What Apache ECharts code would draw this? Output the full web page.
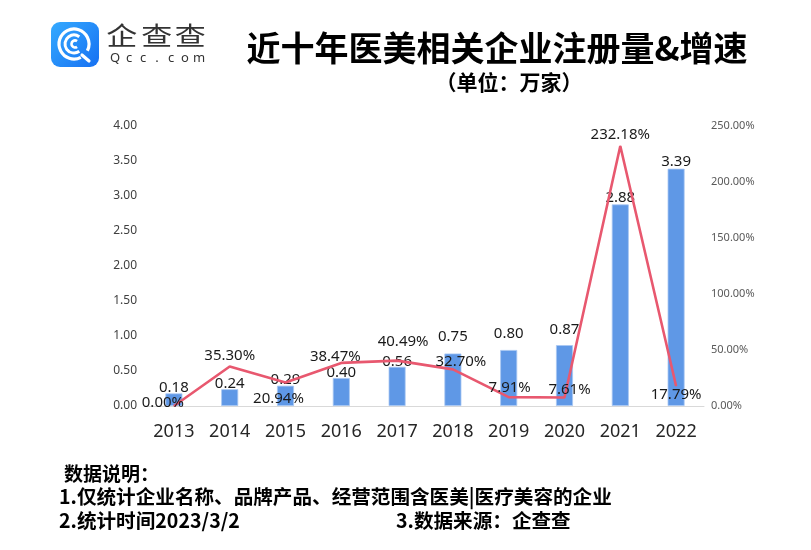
<!DOCTYPE html>
<html>
<head>
<meta charset="utf-8">
<script src="https://cdn.jsdelivr.net/npm/echarts@6/dist/echarts.min.js"></script>
<style>
html,body{margin:0;padding:0;background:#fff;}
#main{width:811px;height:550px;}
</style>
</head>
<body>
<div id="main"></div>
<script>
var years = ['2013','2014','2015','2016','2017','2018','2019','2020','2021','2022'];
var registrations = [0.18, 0.24, 0.29, 0.40, 0.56, 0.75, 0.80, 0.87, 2.88, 3.39];
var growthRate = [0.00, 35.30, 20.94, 38.47, 40.49, 32.70, 7.91, 7.61, 232.18, 17.79];
var leftTicks = {min: 0, max: 4, interval: 0.5};
var rightTicks = {min: 0, max: 250, interval: 50};

var FONT = '"Noto Sans", "Noto Sans CJK SC", sans-serif';
var CJK = '"Noto Sans CJK SC", sans-serif';

var barLabelOffsets = [[0,2],[0,2],[0,2],[0,2],[0,2],[0,-9],[0,-9],[0,-8],[0,1],[0,1]];
var lineLabelOffsets = [[-11,-3],[0,-11],[-7,16],[-6,-6],[6,-19],[8,-8],[1,-9],[5,-8],[0,-11],[0,9]];

var barData = registrations.map(function(v, i){
  return {value: v, label: {offset: barLabelOffsets[i]}};
});
var lineData = growthRate.map(function(v, i){
  return {value: v, label: {offset: lineLabelOffsets[i]}};
});

var chart = echarts.init(document.getElementById('main'), null, {renderer: 'canvas'});

var footer = [
  {type: 'text', left: 64, top: 464, style: {text: '数据说明：', fontSize: 19, fontWeight: 'bold', fontFamily: CJK, fill: '#000'}},
  {type: 'text', left: 59, top: 487, style: {text: '1.仅统计企业名称、品牌产品、经营范围含医美|医疗美容的企业', fontSize: 19.6, fontWeight: 'bold', fontFamily: CJK, fill: '#000'}},
  {type: 'text', left: 59, top: 511, style: {text: '2.统计时间2023/3/2', fontSize: 19.6, fontWeight: 'bold', fontFamily: CJK, fill: '#000'}},
  {type: 'text', left: 396, top: 511, style: {text: '3.数据来源：企查查', fontSize: 19.6, fontWeight: 'bold', fontFamily: CJK, fill: '#000'}}
];

var qccChars = ['Q','c','c','.','c','o','m'];
var qccX = [115, 129, 143, 157, 171, 185, 199];
var logoText = [];
qccChars.forEach(function(c, i){
  logoText.push({type: 'text', x: qccX[i], y: 58, style: {text: c, fontSize: 13, fontFamily: FONT, fill: '#333', align: 'center', verticalAlign: 'middle'}});
});
[121.7, 156.7, 190.3].forEach(function(x){
  logoText.push({type: 'text', x: x, y: 35.5, scaleY: 0.82, style: {text: x < 130 ? '企' : '查', fontSize: 31, fontFamily: CJK, fill: '#333', align: 'center', verticalAlign: 'middle'}});
});

var logo = [
  {type: 'rect', shape: {x: 51, y: 22, width: 48, height: 45, r: 9},
   style: {fill: new echarts.graphic.LinearGradient(0, 0, 1, 1, [{offset: 0, color: '#35aaff'}, {offset: 1, color: '#1670f2'}])}},
  {type: 'arc', shape: {cx: 74, cy: 44, r: 15, startAngle: Math.PI * 0.35, endAngle: Math.PI * 2.15, clockwise: true},
   style: {stroke: '#fff', lineWidth: 3.2, fill: null}},
  {type: 'line', shape: {x1: 82, y1: 55, x2: 89, y2: 61}, style: {stroke: '#fff', lineWidth: 3.2, lineCap: 'round'}},
  {type: 'arc', shape: {cx: 74, cy: 44, r: 9, startAngle: Math.PI * 0.3, endAngle: Math.PI * 1.7, clockwise: true},
   style: {stroke: '#fff', lineWidth: 3, fill: null}},
  {type: 'arc', shape: {cx: 75, cy: 44, r: 3.5, startAngle: Math.PI * 0.3, endAngle: Math.PI * 1.7, clockwise: true},
   style: {stroke: '#fff', lineWidth: 2.6, fill: null}}
];

var option = {
  backgroundColor: '#ffffff',
  animation: false,
  textStyle: {fontFamily: FONT},
  title: [
    {text: '近十年医美相关企业注册量&增速', left: 492, top: 26, textAlign: 'center',
     textStyle: {fontSize: 34, fontWeight: 'bold', fontFamily: CJK, color: '#000'}},
    {text: '（单位：万家）', left: 504, top: 67, textAlign: 'center',
     textStyle: {fontSize: 21, fontWeight: 'bold', fontFamily: CJK, color: '#000'}}
  ],
  graphic: logo.concat(logoText).concat(footer),
  grid: {left: 146, right: 107, top: 126, bottom: 144},
  xAxis: {
    type: 'category', data: years,
    axisLine: {lineStyle: {color: '#d9d9d9', width: 1}},
    axisTick: {show: false},
    axisLabel: {fontSize: 18, color: '#262626', margin: 17, fontFamily: FONT}
  },
  yAxis: [
    {type: 'value', min: leftTicks.min, max: leftTicks.max, interval: leftTicks.interval,
     axisLine: {show: false}, axisTick: {show: false}, splitLine: {show: false},
     axisLabel: {fontSize: 12, color: '#404040', margin: 9, fontFamily: FONT,
       formatter: function(v){ return v.toFixed(2); }}},
    {type: 'value', min: rightTicks.min, max: rightTicks.max, interval: rightTicks.interval,
     axisLine: {show: false}, axisTick: {show: false}, splitLine: {show: false},
     axisLabel: {fontSize: 11, color: '#595959', margin: 7, fontFamily: FONT,
       formatter: function(v){ return v.toFixed(2) + '%'; }}}
  ],
  series: [
    {type: 'bar', name: '注册量', data: barData, yAxisIndex: 0, barWidth: 17,
     itemStyle: {color: '#5f98e6', borderColor: '#a8c7f2', borderWidth: 0.8},
     label: {show: true, position: 'top', distance: 0, fontSize: 15, color: '#1a1a1a', fontFamily: FONT,
       formatter: function(p){ return p.value.toFixed(2); }}},
    {type: 'line', name: '增速', data: lineData, yAxisIndex: 1, z: 5,
     symbol: 'circle', symbolSize: 1, showSymbol: true,
     itemStyle: {color: '#e8586f'},
     lineStyle: {color: '#e8586f', width: 2.6},
     label: {show: true, position: 'inside', fontSize: 15, color: '#1a1a1a', fontFamily: FONT,
       formatter: function(p){ return p.value.toFixed(2) + '%'; }}}
  ]
};
chart.setOption(option);
</script>
</body>
</html>
